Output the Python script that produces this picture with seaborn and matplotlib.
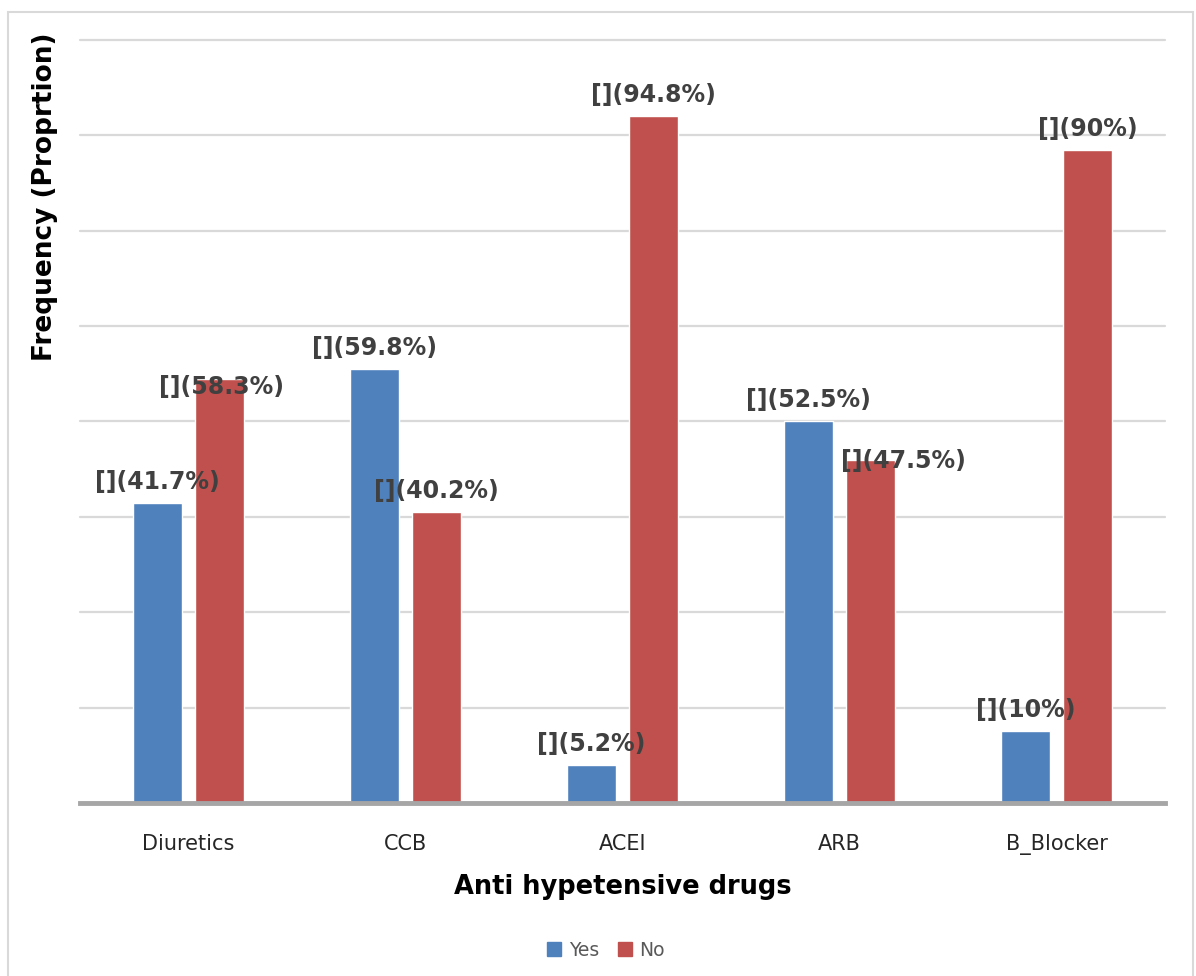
import numpy as np
import pandas as pd
import matplotlib
matplotlib.use('Agg')
import matplotlib.pyplot as plt
import seaborn as sns
from matplotlib.patches import Rectangle, Patch

# data (bar heights are counts, labels are proportions)
drugs = ['Diuretics', 'CCB', 'ACEI', 'ARB', 'B_Blocker']
yes_counts = [63, 91, 8, 80, 15]
no_counts = [89, 61, 144, 72, 137]
yes_pct = ['41.7%', '59.8%', '5.2%', '52.5%', '10%']
no_pct = ['58.3%', '40.2%', '94.8%', '47.5%', '90%']

BLUE, RED = '#4F81BD', '#C0504D'

df = pd.DataFrame({
    'drug': drugs * 2,
    'answer': ['Yes'] * len(drugs) + ['No'] * len(drugs),
    'count': yes_counts + no_counts,
    'label': [f'[]({p})' for p in yes_pct + no_pct],
})

sns.set_style('white')
plt.rcParams['font.family'] = ['DejaVu Sans']

fig = plt.figure(figsize=(11.96, 9.76), dpi=100)
ax = fig.add_axes([80/1196, 1-803/976, (1165-80)/1196, (803-40)/976])

sns.barplot(data=df, x='drug', y='count', hue='answer', order=drugs,
            hue_order=['Yes', 'No'], palette=[BLUE, RED], width=0.57, gap=0.22,
            saturation=1, ax=ax)
ax.get_legend().remove()

ax.set_ylim(0, 160)
ax.set_yticks(np.arange(0, 161, 20))
ax.set_yticklabels([])
ax.tick_params(axis='y', length=0)
ax.tick_params(axis='x', length=0, labelsize=15, pad=22)
ax.grid(axis='y', color='#D9D9D9', linewidth=1.6)
for gl in ax.get_ygridlines():
    gl.set_clip_on(False)
ax.set_axisbelow(True)
for s in ['top', 'right', 'left']:
    ax.spines[s].set_visible(False)
ax.spines['bottom'].set_color('#A6A6A6')
ax.spines['bottom'].set_linewidth(3.5)

# value labels; a couple were nudged by hand in the original
nudge = {(0, 'No'): (2, -29), (3, 'No'): (33, -22)}
for cont, ans in zip(ax.containers, ['Yes', 'No']):
    sub = df[df['answer'] == ans].reset_index(drop=True)
    for i, bar in enumerate(cont):
        dx, dy = nudge.get((i, ans), (0, 0))
        ax.annotate(sub.loc[i, 'label'],
                    (bar.get_x() + bar.get_width()/2, bar.get_height()),
                    xytext=(dx, 21 + dy), textcoords='offset pixels',
                    ha='center', va='center', fontsize=17, fontweight='bold',
                    color='#404040')

ax.set_xlabel('Anti hypetensive drugs', fontsize=18.5, fontweight='bold',
              color='black', labelpad=14)
ax.set_ylabel('Frequency (Proprtion)', fontsize=19, fontweight='bold',
              color='black', loc='top', labelpad=12)
ax.yaxis.set_label_coords(-22/1085, 1.01)

handles = [Patch(color=BLUE, label='Yes'), Patch(color=RED, label='No')]
fig.legend(handles=handles, loc='center', bbox_to_anchor=(606/1196, 1-950/976),
           ncol=2, frameon=False, fontsize=13.5, labelcolor='#595959',
           handlelength=0.75, handleheight=0.75, handletextpad=0.4,
           columnspacing=1.0)

fig.patches.append(Rectangle((8/1196, -0.02), (1193-8)/1196, 1.02-12/976,
                             transform=fig.transFigure, fill=False,
                             edgecolor='#D9D9D9', linewidth=1.5))

fig.savefig('out.png', dpi=100)
